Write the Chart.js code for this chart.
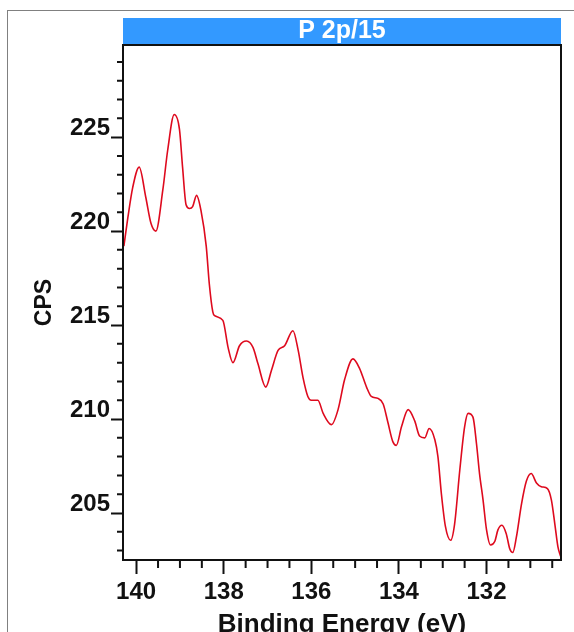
<!DOCTYPE html>
<html>
<head>
<meta charset="utf-8">
<script src="https://cdn.jsdelivr.net/npm/chart.js@4/dist/chart.umd.min.js"></script>
<style>
  body { margin: 0; background: #fff; }
  #wrap { position: relative; width: 574px; height: 632px; overflow: hidden; }
  #frame { position: absolute; left: 7px; top: 10px; width: 700px; height: 700px;
           border-left: 1px solid #808080; border-top: 1px solid #808080; }
  #myChart { position: absolute; left: 0; top: 0; }
</style>
</head>
<body>
<div id="wrap">
  <div id="frame"></div>
  <canvas id="myChart" width="574" height="632"></canvas>
</div>
<script>
// P 2p region (binding energy in eV, counts per second)
const energy = [140.28, 140.19, 140.08, 139.93, 139.78, 139.66, 139.55, 139.39, 139.28, 139.13,
  139.01, 138.94, 138.86, 138.78, 138.71, 138.62, 138.52, 138.40, 138.33, 138.25,
  138.21, 138.02, 137.90, 137.79, 137.64, 137.48, 137.33, 137.22, 137.04, 136.91,
  136.76, 136.61, 136.42, 136.30, 136.19, 136.08, 136.00, 135.85, 135.73, 135.54,
  135.39, 135.24, 135.05, 134.90, 134.74, 134.63, 134.48, 134.36, 134.25, 134.14,
  134.06, 133.94, 133.79, 133.64, 133.53, 133.41, 133.31, 133.18, 133.11, 133.03,
  132.94, 132.82, 132.73, 132.61, 132.50, 132.42, 132.31, 132.23, 132.16, 132.08,
  132.00, 131.91, 131.81, 131.74, 131.65, 131.55, 131.47, 131.40, 131.32, 131.20,
  131.09, 130.98, 130.86, 130.75, 130.61, 130.52, 130.44, 130.37, 130.31];
const cps = [219.2, 220.7, 222.3, 223.4, 221.8, 220.4, 220.0, 222.2, 224.3, 226.2,
  225.4, 223.4, 221.4, 221.2, 221.3, 221.9, 221.1, 219.2, 217.2, 215.7,
  215.5, 215.25, 213.8, 213.0, 213.9, 214.15, 213.8, 212.95, 211.7, 212.6,
  213.65, 213.9, 214.7, 213.65, 212.2, 211.2, 211.0, 211.0, 210.3, 209.7,
  210.5, 212.1, 213.2, 212.7, 211.7, 211.2, 211.1, 210.8, 209.8, 208.8,
  208.6, 209.6, 210.5, 209.9, 209.1, 209.0, 209.5, 208.9, 208.0, 206.0,
  204.3, 203.55, 204.4, 207.3, 209.6, 210.3, 210.1, 208.7, 207.1, 205.7,
  204.1, 203.3, 203.5, 204.1, 204.35, 203.9, 203.1, 202.9, 203.7, 205.5,
  206.7, 207.1, 206.6, 206.4, 206.3, 205.7, 204.4, 203.2, 202.7];

const xRange = [130.3, 140.3];
const yRange = [202.5, 229.9];
// tick marks: every 0.5 eV / 1 CPS, labels every 2 eV / 5 CPS
const xTicks = [130.5, 131, 131.5, 132, 132.5, 133, 133.5, 134, 134.5, 135,
  135.5, 136, 136.5, 137, 137.5, 138, 138.5, 139, 139.5, 140];
const xLabelEvery = 2;
const yStep = 1, yLabelEvery = 5;
const titleText = 'P 2p/15';

function isMult(v, m) {
  let r = Math.abs(v / m - Math.round(v / m));
  return r < 1e-6;
}

// blue header bar, plot box, and the short minor ticks
const framePlugin = {
  id: 'framePlugin',
  beforeDraw(chart) {
    const ctx = chart.ctx, a = chart.chartArea, t = chart.titleBlock;
    ctx.save();
    ctx.fillStyle = '#3399ff';
    ctx.fillRect(a.left, t.top, a.right - a.left, t.bottom - t.top);
    ctx.restore();
  },
  afterDraw(chart) {
    const ctx = chart.ctx, a = chart.chartArea;
    const x = chart.scales.x, y = chart.scales.y;
    ctx.save();
    ctx.strokeStyle = '#111';
    ctx.lineWidth = 2;
    ctx.strokeRect(a.left, a.top, a.right - a.left, a.bottom - a.top);
    ctx.beginPath();
    x.ticks.forEach(t => {
      if (isMult(t.value, xLabelEvery)) return;
      const px = x.getPixelForValue(t.value);
      ctx.moveTo(px, a.bottom);
      ctx.lineTo(px, a.bottom + 8);
    });
    y.ticks.forEach(t => {
      if (isMult(t.value, yLabelEvery)) return;
      const py = y.getPixelForValue(t.value);
      ctx.moveTo(a.left, py);
      ctx.lineTo(a.left - 6, py);
    });
    ctx.stroke();
    ctx.restore();
  }
};

const tickFont = { family: 'Liberation Sans, Arial, sans-serif', weight: 'bold', size: 24 };

let ctx1 = document.getElementById('myChart').getContext('2d');
let myChart = new Chart(ctx1, {
  type: 'line',
  data: {
    datasets: [{
      data: energy.map((e, i) => ({ x: e, y: cps[i] })),
      borderColor: 'rgb(222, 10, 30)',
      borderWidth: 1.6,
      pointRadius: 0,
      cubicInterpolationMode: 'monotone',
      fill: false
    }]
  },
  options: {
    responsive: false,
    animation: false,
    layout: { padding: { left: 0, right: 13, top: 18, bottom: 0 } },
    plugins: {
      legend: { display: false },
      tooltip: { enabled: false },
      title: {
        display: true,
        text: titleText,
        fullSize: false,
        color: '#ffffff',
        padding: 0,
        font: { family: 'Liberation Sans, Arial, sans-serif', weight: 'bold', size: 25, lineHeight: 27 / 25 }
      }
    },
    scales: {
      x: {
        type: 'linear',
        reverse: true,
        min: xRange[0],
        max: xRange[1],
        afterBuildTicks: s => { s.ticks = xTicks.map(v => ({ value: v })); },
        border: { display: true, color: '#111', width: 2 },
        grid: {
          drawOnChartArea: false,
          tickLength: 14,
          tickWidth: 2,
          tickColor: c => isMult(c.tick.value, xLabelEvery) ? '#111' : 'rgba(0,0,0,0)'
        },
        ticks: {
          autoSkip: false,
          maxRotation: 0,
          minRotation: 0,
          padding: 4,
          color: '#111',
          font: tickFont,
          callback: v => isMult(v, xLabelEvery) ? String(Math.round(v)) : ''
        },
        title: {
          display: true,
          text: 'Binding Energy (eV)',
          color: '#111',
          padding: { top: 0, bottom: -6 },
          font: { family: 'Liberation Sans, Arial, sans-serif', weight: 'bold', size: 26, lineHeight: 1 }
        },
        afterFit: s => { s.height = 72; }
      },
      y: {
        min: yRange[0],
        max: yRange[1],
        border: { display: true, color: '#111', width: 2 },
        grid: {
          drawOnChartArea: false,
          tickLength: 12,
          tickWidth: 2,
          tickColor: c => isMult(c.tick.value, yLabelEvery) ? '#111' : 'rgba(0,0,0,0)'
        },
        ticks: {
          stepSize: yStep,
          includeBounds: false,
          autoSkip: false,
          padding: 1,
          labelOffset: -8.5,
          color: '#111',
          font: tickFont,
          callback: v => isMult(v, yLabelEvery) ? String(Math.round(v)) : ''
        },
        title: {
          display: true,
          text: 'CPS',
          color: '#111',
          padding: { top: 33, bottom: 0 },
          font: { family: 'Liberation Sans, Arial, sans-serif', weight: 'bold', size: 23, lineHeight: 1 }
        },
        afterFit: s => { s.width = 123; }
      }
    }
  },
  plugins: [framePlugin]
});
</script>
</body>
</html>
